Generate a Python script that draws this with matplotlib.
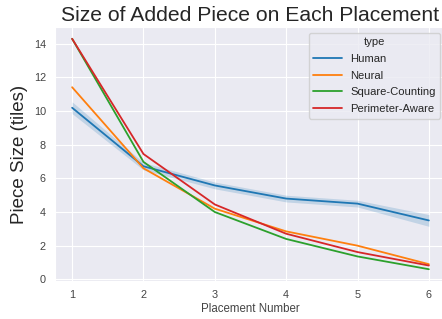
import matplotlib
matplotlib.use("Agg")
import matplotlib.pyplot as plt
import seaborn as sns

sns.set_style("darkgrid")
plt.rcParams["font.family"] = ["Liberation Sans", "DejaVu Sans"]

# ----------------------------------------------------------------------
# Data
# ----------------------------------------------------------------------
placements = [1, 2, 3, 4, 5, 6]
human = [10.2, 6.72, 5.58, 4.8, 4.5, 3.5]
human_lo = [9.85, 6.5, 5.38, 4.6, 4.3, 3.15]
human_hi = [10.55, 6.94, 5.78, 5.0, 4.7, 3.85]
neural = [11.42, 6.6, 4.2, 2.85, 2.0, 0.9]
square_counting = [14.3, 6.98, 4.0, 2.4, 1.36, 0.6]
perimeter_aware = [14.3, 7.45, 4.45, 2.71, 1.62, 0.82]

series = [
    ("Human", human, "#1f77b4"),
    ("Neural", neural, "#ff7f0e"),
    ("Square-Counting", square_counting, "#2ca02c"),
    ("Perimeter-Aware", perimeter_aware, "#d62728"),
]

fig = plt.figure(figsize=(4.42, 3.19), dpi=100)
ax = fig.add_axes([55 / 442, 1 - 281 / 319, (446 - 55) / 442, (281 - 27) / 319])

ax.fill_between(placements, human_lo, human_hi, color="#1f77b4", alpha=0.2, linewidth=0)
for name, vals, color in series:
    ax.plot(placements, vals, color=color, linewidth=1.3, label=name)

ax.set_xlim(0.76, 6.24)
ax.set_ylim(-0.1, 15.0)
ax.set_xticks(placements)
ax.set_yticks([0, 2, 4, 6, 8, 10, 12, 14])
ax.tick_params(labelsize=7.8, colors="#444444", pad=3)

ax.set_title("Size of Added Piece on Each Placement", fontsize=15.2, color="#262626", pad=4)
ax.set_ylabel("Piece Size (tiles)", fontsize=13.5, color="#262626")
ax.set_xlabel("Placement Number", fontsize=8.3, color="#444444", labelpad=2)

leg = ax.legend(title="type", fontsize=8.1, title_fontsize=8.1, loc="upper right",
                borderaxespad=0.5, handlelength=2.5, labelspacing=0.6)

fig.savefig("out.png", dpi=100)
